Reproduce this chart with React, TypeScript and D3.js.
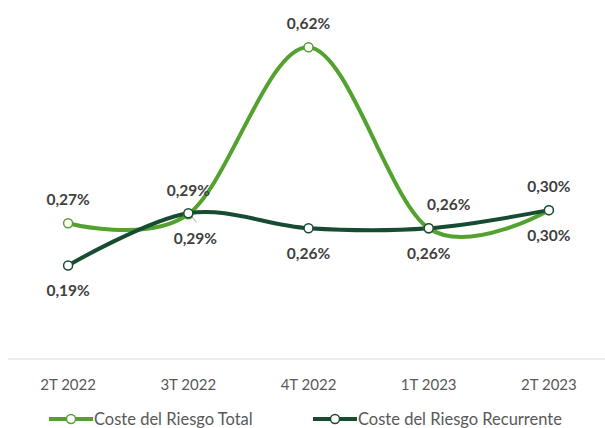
import React from "react";
import { scalePoint, scaleLinear, line, curveCatmullRom } from "d3";

const quarters = ["2T 2022", "3T 2022", "4T 2022", "1T 2023", "2T 2023"];
const costeTotal = [0.27, 0.288, 0.62, 0.26, 0.296];
const costeRecurrente = [0.186, 0.29, 0.26, 0.26, 0.296];
const seriesNames = ["Coste del Riesgo Total", "Coste del Riesgo Recurrente"];

// label nudges (px) so they sit where the original put them
const totalLabelDx = [0, 0, 0, 20, 0];
const recurLabelDx = [0, 7, 0, 0, 0];

const W = 605;
const H = 428;
const LIGHT = "#53a22f";
const DARK = "#164c32";
const FONT = "Lato, 'Open Sans', sans-serif";

const fmt = (v: number) => v.toFixed(2).replace(".", ",") + "%";

export default function App() {
  const x = scalePoint<string>().domain(quarters).range([8, 609]).padding(0.5);
  const y = scaleLinear().domain([0, 0.7]).range([359, 7]);

  const mk = (vals: number[]) =>
    line<number>()
      .x((_, i) => x(quarters[i]) as number)
      .y((d) => y(d))
      .curve(curveCatmullRom.alpha(0))(vals) as string;

  const series = [
    { vals: costeTotal, color: LIGHT, above: true, dx: totalLabelDx },
    { vals: costeRecurrente, color: DARK, above: false, dx: recurLabelDx },
  ];

  const legendX = [49, 313];

  return (
    <svg
      width={W}
      height={H}
      style={{ position: "absolute", left: 0, top: 0, background: "#fff" }}
    >
      {/* baseline */}
      <line x1={8} x2={605} y1={359} y2={359} stroke="#d9d9d9" strokeWidth={1} />

      {/* x tick labels */}
      {quarters.map((q) => (
        <text
          key={q}
          x={x(q)}
          y={390}
          textAnchor="middle"
          fontFamily={FONT}
          fontSize={15}
          fill="#595959"
        >
          {q}
        </text>
      ))}

      {/* lines */}
      {series.map((s, si) => (
        <path
          key={si}
          d={mk(s.vals)}
          fill="none"
          stroke={s.color}
          strokeWidth={4}
          strokeLinejoin="round"
          strokeLinecap="round"
        />
      ))}

      {/* leader line for 3T 2022 recurrente label */}
      <line
        x1={(x(quarters[1]) as number) + 3}
        y1={y(costeRecurrente[1]) + 3}
        x2={(x(quarters[1]) as number) + 8}
        y2={y(costeRecurrente[1]) + 9}
        stroke="#a6a6a6"
        strokeWidth={1}
      />

      {/* markers */}
      {series.map((s, si) =>
        s.vals.map((v, i) => (
          <circle
            key={`${si}-${i}`}
            cx={x(quarters[i])}
            cy={y(v)}
            r={4.5}
            fill="#fff"
            stroke={s.color}
            strokeWidth={1.5}
          />
        ))
      )}

      {/* data labels */}
      {series.map((s, si) =>
        s.vals.map((v, i) => (
          <text
            key={`l${si}-${i}`}
            x={(x(quarters[i]) as number) + s.dx[i]}
            y={y(v) + (s.above ? -18 : 31)}
            textAnchor="middle"
            fontFamily={FONT}
            fontWeight="bold"
            fontSize={15.5}
            fill="#404040"
          >
            {fmt(v)}
          </text>
        ))
      )}

      {/* legend */}
      {series.map((s, si) => {
        const lx = legendX[si];
        return (
          <g key={`lg${si}`}>
            <line x1={lx} x2={lx + 44} y1={419} y2={419} stroke={s.color} strokeWidth={4} />
            <circle cx={lx + 22} cy={419} r={4.5} fill="#fff" stroke={s.color} strokeWidth={1.5} />
            <text x={lx + 45} y={425} fontFamily={FONT} fontSize={16.5} fill="#595959">
              {seriesNames[si]}
            </text>
          </g>
        );
      })}
    </svg>
  );
}
